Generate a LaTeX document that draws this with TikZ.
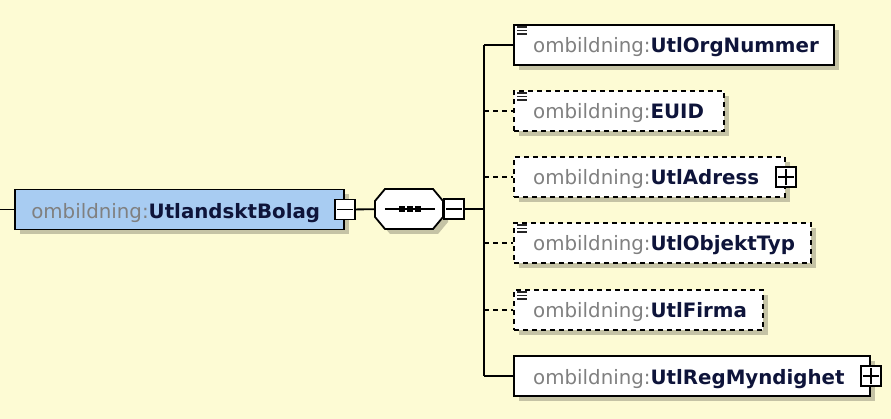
\documentclass[tikz,border=0pt]{standalone}
\usepackage{fontspec}
\setmainfont{DejaVu Sans}
\usetikzlibrary{positioning,shadows}

\definecolor{bgyellow}{RGB}{253,251,212}
\definecolor{elemblue}{RGB}{168,204,242}
\definecolor{prefixgray}{RGB}{128,128,128}
\definecolor{namenavy}{RGB}{14,20,58}

\newcommand\elname[1]{\textcolor{prefixgray}{ombildning:}\textcolor{namenavy}{\bfseries #1}}

\begin{document}
\begin{tikzpicture}[
  x=1pt, y=-1pt,
  font=\fontsize{19.8}{23}\selectfont,
  ebox/.style={draw=black, line width=1.8pt, fill=white, minimum height=40pt, inner sep=0pt,
               drop shadow={shadow xshift=5pt, shadow yshift=-5pt, fill=black, opacity=0.22}},
  optbox/.style={ebox, dash pattern=on 5pt off 4pt},
  rootbox/.style={ebox, fill=elemblue},
  elabel/.style={anchor=base west, inner sep=0pt},
  pmbox/.style={draw=black, line width=1.5pt, fill=white, minimum size=20pt, inner sep=0pt},
  wire/.style={draw=black, line width=1.8pt},
  optwire/.style={wire, dash pattern=on 5pt off 4pt},
  icon/.style={draw=black!85, line width=1.6pt},
  octshadow/.style={fill=black, opacity=0.22},
  octbox/.style={draw=black, line width=1.8pt, fill=white},
]
\def\sx{409}\def\sy{209}   % centre of the sequence compositor
\def\octagon{(-24,-20) -- (24,-20) -- (34,-8) -- (34,8) -- (24,20) -- (-24,20) -- (-34,8) -- (-34,-8) -- cycle}

\useasboundingbox (0,0) rectangle (891,419);
\fill[bgyellow] (0,0) rectangle (891,419);

% ============================== root element ==============================
\coordinate (lead) at (0,209.5);
\node[rootbox, minimum width=329pt] (root) at (179.5,209.5) {};
\node[elabel] (lroot) at ([xshift=17pt,yshift=-9pt]root.west) {\elname{UtlandsktBolag}};
\draw[wire] (lead) -- (root.west);
\node[pmbox] (rootmin) at (root.east) {};
\draw[line width=1.5pt] ([xshift=3pt]rootmin.west) -- ([xshift=-3pt]rootmin.east);

% ============================== sequence compositor ==============================
\fill[octshadow, shift={(\sx+5,\sy+5)}] \octagon;
\draw[octbox, shift={(\sx,\sy)}] \octagon;
\node[minimum width=68pt, minimum height=40pt, inner sep=0pt] (seq) at (\sx,\sy) {};
\draw[wire] ([xshift=10pt]seq.west) -- ([xshift=-8pt]seq.east);
\foreach \d in {-7,1,9}{ \fill ([xshift=\d pt]seq.center) ++(-3pt,-3pt) rectangle ++(6pt,6pt); }
\draw[wire] (rootmin) -- (seq);
\node[pmbox, right=0pt of seq] (seqmin) {};
\draw[line width=1.5pt] ([xshift=3pt]seqmin.west) -- ([xshift=-3pt]seqmin.east);

% ============================== children ==============================
\coordinate (trunk) at (484,209);
\draw[wire] (seqmin) -- (trunk);
\foreach \i/\y/\w/\nm/\bsty/\wsty/\ic in {
    1/45/320/UtlOrgNummer/ebox/wire/1,
    2/111/210/EUID/optbox/optwire/1,
    3/177/271/UtlAdress/optbox/optwire/0,
    4/243/297/UtlObjektTyp/optbox/optwire/1,
    5/310/249/UtlFirma/optbox/optwire/1,
    6/376/356/UtlRegMyndighet/ebox/wire/0}{
  \node[\bsty, minimum width=\w pt, anchor=west] (c\i) at (513,\y) {};
  \node[elabel] (l\i) at ([xshift=20pt,yshift=-8pt]c\i.west) {\elname{\nm}};
  \draw[\wsty] (trunk |- c\i.west) -- (c\i.west);
  \ifnum\ic=1
    \foreach \k in {3,6.5,10}{ \draw[icon] ([shift={(4pt,-\k pt)}]c\i.north west) -- ++(10pt,0); }
  \fi
}
\draw[wire] (trunk |- c1.west) -- (trunk |- c6.west);

% expand buttons on complex children
\foreach \i in {3,6}{
  \node[pmbox] (c\i plus) at (c\i.east) {};
  \draw[line width=1.5pt] ([xshift=3pt]c\i plus.west) -- ([xshift=-3pt]c\i plus.east)
                          ([yshift=-3pt]c\i plus.north) -- ([yshift=3pt]c\i plus.south);
}
\end{tikzpicture}
\end{document}
